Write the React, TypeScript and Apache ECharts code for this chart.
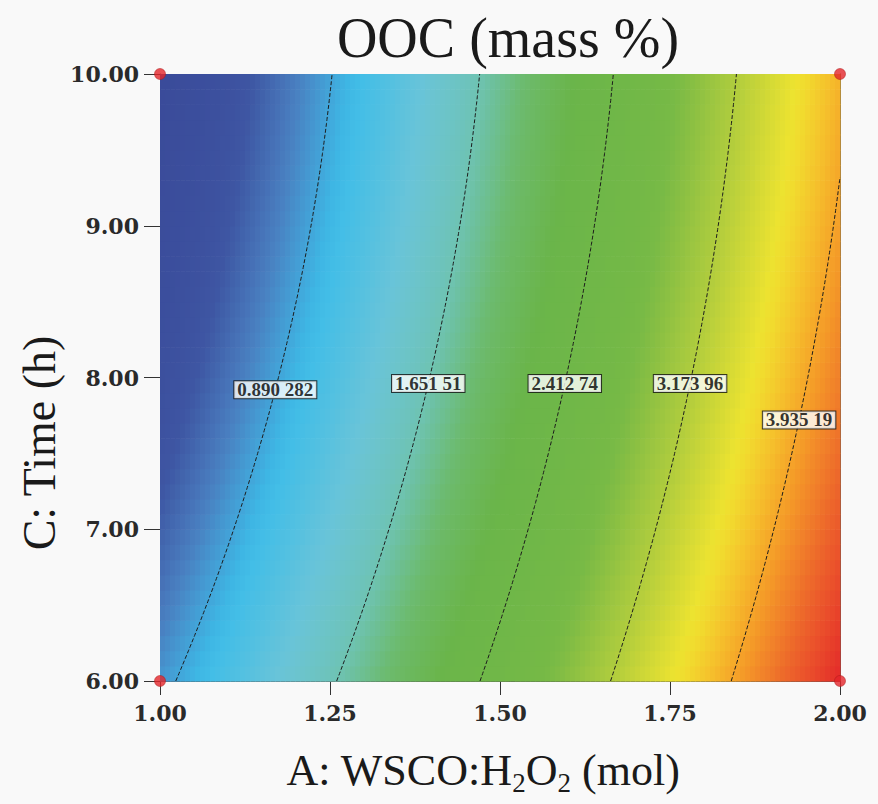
import React, { useEffect, useRef } from "react";
import * as echarts from "echarts";

// ---- data ----
const axisA = { min: 1, max: 2, interval: 0.25 }; // A: WSCO:H2O2 (mol)
const axisC = { min: 6, max: 10, interval: 1 }; // C: Time (h)

// fitted quadratic response surface in coded units: terms 1, a, c, ac, a^2, c^2
const modelTerms = ["1", "a", "c", "ac", "a2", "c2"];
const modelCoef = [2.035, 1.9, -0.381, -0.024, 0.22, 0.109];

const responseMin = 0.129;
const responseMax = 4.696;

const contourLevels = [0.890282, 1.65151, 2.41274, 3.17396, 3.93519];
const contourLabelTime = [7.92, 7.96, 7.96, 7.96, 7.72];

const designA = [1, 2, 1, 2];
const designC = [10, 10, 6, 6];

const titleText = "OOC (mass %)";
const xNameRich = "A: WSCO:H{sub|2}O{sub|2} (mol)";
const yNameText = "C: Time (h)";

// ---- colour ramp (style) ----
const colorStops: [number, string][] = [
  [0, "#3a4b9a"],
  [0.08, "#3d53a1"],
  [0.13, "#4a7fc0"],
  [0.19, "#3dbde9"],
  [0.27, "#6ac4d8"],
  [0.33, "#6ec3b6"],
  [0.39, "#6cba6a"],
  [0.45, "#6ab54a"],
  [0.58, "#76b946"],
  [0.67, "#b2cd3d"],
  [0.755, "#f0e42f"],
  [0.8, "#f5c12c"],
  [0.84, "#f5a028"],
  [0.92, "#ec5f2b"],
  [1, "#e3262a"],
];

function hexToRgb(h: string) {
  return [1, 3, 5].map((i) => parseInt(h.slice(i, i + 2), 16));
}
function rampColor(t: number) {
  for (let i = 1; i < colorStops.length; i++) {
    const [t1, c1] = colorStops[i];
    const [t0, c0] = colorStops[i - 1];
    if (t <= t1) {
      const k = (t - t0) / (t1 - t0);
      const a = hexToRgb(c0);
      const b = hexToRgb(c1);
      const r = a.map((v, j) => Math.round(v + (b[j] - v) * k));
      return `rgb(${r[0]},${r[1]},${r[2]})`;
    }
  }
  return colorStops[colorStops.length - 1][1];
}
const rampColors = Array.from({ length: 61 }, (_, i) => rampColor(i / 60));

function response(A: number, C: number) {
  const a = (A - 1.5) / 0.5;
  const c = (C - 8) / 2;
  const t: Record<string, number> = { "1": 1, a, c, ac: a * c, a2: a * a, c2: c * c };
  return modelTerms.reduce((s, k, i) => s + modelCoef[i] * t[k], 0);
}

function solveA(level: number, C: number): number | null {
  let lo = axisA.min;
  let hi = axisA.max;
  const flo = response(lo, C) - level;
  const fhi = response(hi, C) - level;
  if (flo > 0 || fhi < 0) return null;
  for (let i = 0; i < 50; i++) {
    const m = (lo + hi) / 2;
    if (response(m, C) - level < 0) lo = m;
    else hi = m;
  }
  return (lo + hi) / 2;
}

function contourLine(level: number) {
  const pts: number[][] = [];
  const N = 160;
  let prev: number | null = null;
  let prevC = axisC.min;
  for (let i = 0; i <= N; i++) {
    const C = axisC.min + ((axisC.max - axisC.min) * i) / N;
    const A = solveA(level, C);
    if (A !== null && prev === null && i > 0) {
      let lo = prevC, hi = C;
      for (let k = 0; k < 40; k++) {
        const m = (lo + hi) / 2;
        if (solveA(level, m) === null) lo = m;
        else hi = m;
      }
      const Ae = solveA(level, hi);
      if (Ae !== null) pts.push([Ae, hi]);
    }
    if (A === null && prev !== null) {
      let lo = prevC, hi = C;
      for (let k = 0; k < 40; k++) {
        const m = (lo + hi) / 2;
        if (solveA(level, m) === null) hi = m;
        else lo = m;
      }
      const Ae = solveA(level, lo);
      if (Ae !== null) pts.push([Ae, lo]);
    }
    if (A !== null) pts.push([A, C]);
    prev = A;
    prevC = C;
  }
  return pts;
}

function fmtLevel(v: number) {
  const [i, d = ""] = String(v).split(".");
  const groups = d.match(/.{1,3}/g) || [];
  return groups.length ? `${i}.${groups.join(" ")}` : i;
}

const NA = 136;
const NC = 40;
const dA = (axisA.max - axisA.min) / NA;
const dC = (axisC.max - axisC.min) / NC;

export default function App() {
  const ref = useRef<HTMLDivElement>(null);
  useEffect(() => {
    document.body.style.margin = "0";
    document.body.style.background = "#f9f9f9";
    const chart = echarts.init(ref.current!, null, { renderer: "svg" });

    const cells: number[][] = [];
    for (let i = 0; i < NA; i++) {
      for (let j = 0; j < NC; j++) {
        const A = axisA.min + (i + 0.5) * dA;
        const C = axisC.min + (j + 0.5) * dC;
        cells.push([A, C, response(A, C)]);
      }
    }

    const tickFont = {
      fontFamily: "DejaVu Serif",
      fontWeight: "bold" as const,
      fontSize: 22,
      color: "#2a2a2a",
    };

    const labelData = contourLevels.map((L, i) => {
      const A = solveA(L, contourLabelTime[i]) ?? axisA.max;
      return { value: [A, contourLabelTime[i]], name: fmtLevel(L) };
    });

    const option: any = {
      animation: false,
      backgroundColor: "#f9f9f9",
      title: {
        text: titleText,
        left: 503,
        textAlign: "center",
        top: 5,
        textStyle: {
          fontFamily: "Liberation Serif",
          fontSize: 56,
          fontWeight: "normal",
          color: "#1a1a1a",
        },
      },
      graphic: [
        {
          type: "text",
          x: 483,
          y: 770,
          style: {
            text: xNameRich,
            fontFamily: "Liberation Serif",
            fontSize: 44,
            fill: "#1a1a1a",
            align: "center",
            verticalAlign: "middle",
            rich: {
              sub: {
                fontFamily: "Liberation Serif",
                fontSize: 27,
                fill: "#1a1a1a",
                padding: [26, 0, 0, 0],
              },
            },
          },
        },
        {
          type: "text",
          x: 39,
          y: 443,
          rotation: Math.PI / 2,
          style: {
            text: yNameText,
            fontFamily: "Liberation Serif",
            fontSize: 46,
            fill: "#1a1a1a",
            align: "center",
            verticalAlign: "middle",
          },
        },
      ],
      grid: { left: 160, right: 38, top: 74, bottom: 123 },
      visualMap: {
        type: "continuous",
        show: false,
        min: responseMin,
        max: responseMax,
        dimension: 2,
        seriesIndex: 0,
        inRange: { color: rampColors },
      },
      xAxis: [
        {
          type: "value",
          min: axisA.min,
          max: axisA.max,
          interval: axisA.interval,
          position: "bottom",
          axisLine: { show: true, lineStyle: { color: "#555", width: 1 } },
          axisTick: { show: true, length: 14, lineStyle: { color: "#333" } },
          axisLabel: { ...tickFont, margin: 21, formatter: (v: number) => v.toFixed(2) },
          splitLine: { show: false },
        },
        {
          type: "value",
          min: axisA.min,
          max: axisA.max,
          position: "top",
          axisLine: { show: true, lineStyle: { color: "#555", width: 1 } },
          axisTick: { show: false },
          axisLabel: { show: false },
          splitLine: { show: false },
        },
      ],
      yAxis: [
        {
          type: "value",
          min: axisC.min,
          max: axisC.max,
          interval: axisC.interval,
          position: "left",
          axisLine: { show: true, lineStyle: { color: "#555", width: 1 } },
          axisTick: { show: true, length: 16, lineStyle: { color: "#333" } },
          axisLabel: { ...tickFont, margin: 21, formatter: (v: number) => v.toFixed(2) },
          splitLine: { show: false },
        },
        {
          type: "value",
          min: axisC.min,
          max: axisC.max,
          position: "right",
          axisLine: { show: true, lineStyle: { color: "#555", width: 1 } },
          axisTick: { show: false },
          axisLabel: { show: false },
          splitLine: { show: false },
        },
      ],
      series: [
        {
          type: "custom",
          data: cells,
          encode: { x: 0, y: 1 },
          clip: true,
          z: 1,
          renderItem: (params: any, api: any) => {
            const A = api.value(0);
            const C = api.value(1);
            const p0 = api.coord([A - dA / 2, C + dC / 2]);
            const p1 = api.coord([A + dA / 2, C - dC / 2]);
            const color = api.visual("color");
            return {
              type: "rect",
              shape: {
                x: p0[0],
                y: p0[1],
                width: p1[0] - p0[0] + 0.6,
                height: p1[1] - p0[1] + 0.6,
              },
              style: { fill: color },
            };
          },
        },
        ...contourLevels.map((L) => ({
          type: "line",
          data: contourLine(L),
          showSymbol: false,
          symbol: "none",
          z: 3,
          lineStyle: { color: "#1c1c1c", width: 1, type: [4, 2] },
          silent: true,
        })),
        {
          type: "scatter",
          data: labelData,
          symbolSize: 0,
          z: 4,
          silent: true,
          label: {
            show: true,
            position: "inside",
            formatter: (p: any) => p.name,
            fontFamily: "Liberation Serif",
            fontWeight: "bold",
            fontSize: 19,
            lineHeight: 16,
            color: "#000",
            backgroundColor: "#ffffff",
            borderColor: "#111",
            borderWidth: 1,
            padding: [1, 3, 0, 3],
          },
        },
        {
          type: "scatter",
          data: designA.map((a, i) => [a, designC[i]]),
          symbolSize: 11,
          clip: false,
          z: 5,
          silent: true,
          itemStyle: { color: "#e3262a", borderColor: "#a81818", borderWidth: 0.6 },
        },
      ],
    };

    chart.setOption(option);
    return () => chart.dispose();
  }, []);
  return <div ref={ref} style={{ width: 878, height: 804 }} />;
}
